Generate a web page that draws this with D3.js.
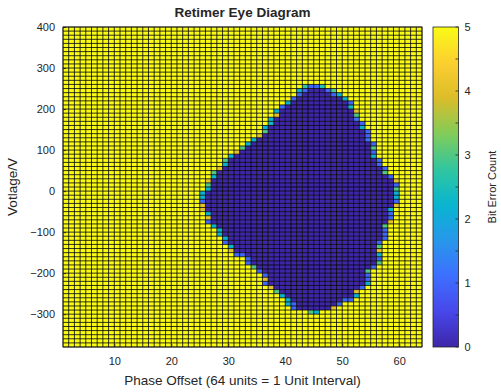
<!DOCTYPE html>
<html><head><meta charset="utf-8">
<script src="https://cdn.jsdelivr.net/npm/d3@7"></script>
<style>body{margin:0;background:#fff}text{font-family:"Liberation Sans",Arial,Helvetica,sans-serif;fill:#262626}</style>
</head><body>
<svg id="c" width="501" height="392"></svg>
<script>
// ---- data ----
const phaseEdges = d3.range(1, 65);              // 1..64 -> 63 columns
const voltageEdges = d3.range(400, -390, -10);   // 400..-380 -> 78 rows
const xTicks = [10, 20, 30, 40, 50, 60];
const yTicks = [-300, -200, -100, 0, 100, 200, 300, 400];
const cbTicks = [0, 1, 2, 3, 4, 5];
const cbMinorTicks = [0.5, 1.5, 2.5, 3.5, 4.5];
const maxCount = 5;

// eye opening: per voltage row (top edge), first and last phase with errors < max
const eyeRowVoltage = [260,250,240,230,220,210,200,190,180,170,160,150,140,130,120,110,100,90,80,70,60,50,40,30,20,10,0,-10,-20,-30,-40,-50,-60,-70,-80,-90,-100,-110,-120,-130,-140,-150,-160,-170,-180,-190,-200,-210,-220,-230,-240,-250,-260,-270,-280,-290];
const eyeLeftPhase  = [43,42,42,41,40,39,38,38,37,37,36,36,35,34,33,32,31,30,29,29,28,27,27,26,26,26,25,25,25,25,25,26,26,26,27,28,28,29,29,30,30,32,33,33,34,35,36,36,36,37,38,39,40,40,41,44];
const eyeRightPhase = [46,48,49,50,51,51,52,52,52,53,53,54,54,54,55,55,55,55,56,56,57,57,58,59,59,59,59,59,59,59,58,58,58,58,57,57,57,57,56,56,56,56,56,56,55,54,54,54,54,53,52,52,51,49,48,45];
const eyeLeftCount  = [2.8,2.2,1.0,2.2,2.2,1.0,2.2,4.0,2.2,2.4,2.2,3.0,4.0,2.2,2.2,3.0,4.0,2.2,3.0,2.2,4.0,3.0,2.2,4.0,3.0,2.2,2.2,2.2,1.0,4.0,4.0,2.2,4.0,1.0,2.2,2.2,2.2,2.2,1.0,2.2,4.0,2.2,3.0,1.0,3.0,2.2,1.0,4.0,1.0,4.0,3.0,2.2,2.2,2.2,1.0,3.0];
const eyeRightCount = [2.6,3.0,2.2,2.2,1.0,2.4,4.0,3.0,1.2,1.0,2.2,1.0,1.0,1.2,1.0,3.0,1.0,2.2,1.0,1.0,1.0,3.0,1.0,4.0,1.0,3.0,2.2,2.2,1.0,4.0,2.2,1.0,1.0,4.0,3.0,1.0,1.0,1.0,1.0,3.0,4.0,2.2,1.0,3.0,1.0,3.0,1.0,1.0,2.2,1.0,4.0,2.2,1.0,1.0,4.0,2.2];
// isolated partial-error cells inside the eye: [phase, voltage(top), count]
const extraCells = [[44,260,1.0],[45,260,1.0],[43,250,1.0],[47,250,1.0],[48,240,1.0],[41,230,1.0],[31,-150,1.0],[32,-150,1.0],[33,-160,1.0],[35,-190,1.0],[36,-200,1.0],[56,-120,1.0],[53,-230,1.0],[50,-260,1.0],[41,-270,1.0]];

// parula colormap stops (t = k/9)
const parula = [[0.2422,0.1504,0.6603],[0.2803,0.2782,0.9221],[0.2440,0.4358,0.9988],[0.1540,0.5902,0.9218],[0.0297,0.7082,0.8163],[0.1938,0.7758,0.6251],[0.5044,0.7993,0.3480],[0.8634,0.7406,0.1596],[0.9892,0.8136,0.1885],[0.9769,0.9839,0.0805]];

// ---- build matrix ----
const nCols = phaseEdges.length - 1, nRows = voltageEdges.length - 1;
const cells = [];
for (let r = 0; r < nRows; r++) {
  const v = voltageEdges[r];
  const ei = eyeRowVoltage.indexOf(v);
  for (let c = 0; c < nCols; c++) {
    const p = phaseEdges[c];
    let val = maxCount;
    if (ei >= 0 && p >= eyeLeftPhase[ei] && p <= eyeRightPhase[ei]) {
      val = 0;
      if (p === eyeLeftPhase[ei]) val = eyeLeftCount[ei];
      if (p === eyeRightPhase[ei]) val = eyeRightCount[ei];
    }
    cells.push({p0: p, p1: phaseEdges[c+1], v0: v, v1: voltageEdges[r+1], val});
  }
}
extraCells.forEach(([p, v, n]) => {
  const c = cells.find(d => d.p0 === p && d.v0 === v);
  if (c) c.val = n;
});

const toRgb = a => d3.rgb(a[0]*255, a[1]*255, a[2]*255).formatHex();
const colorScale = d3.scaleLinear()
  .domain(parula.map((_, i) => i / (parula.length - 1) * maxCount))
  .range(parula.map(toRgb))
  .interpolate(d3.interpolateRgb).clamp(true);

// ---- layout ----
const svg = d3.select("#c");
const L = 63, R = 422, T = 27, B = 347;
const x = d3.scaleLinear().domain([phaseEdges[0], phaseEdges[nCols]]).range([L, R]);
const y = d3.scaleLinear().domain([voltageEdges[nRows], voltageEdges[0]]).range([B, T]);

const g = svg.append("g");
g.selectAll("rect.cell").data(cells).join("rect")
  .attr("x", d => x(d.p0)).attr("y", d => y(d.v0))
  .attr("width", d => x(d.p1) - x(d.p0)).attr("height", d => y(d.v1) - y(d.v0))
  .attr("fill", d => colorScale(d.val));

// grid (cell edges)
g.selectAll("line.v").data(phaseEdges).join("line")
  .attr("x1", d => x(d)).attr("x2", d => x(d)).attr("y1", T).attr("y2", B)
  .attr("stroke", "#000").attr("stroke-width", 0.8);
g.selectAll("line.h").data(voltageEdges).join("line")
  .attr("y1", d => y(d)).attr("y2", d => y(d)).attr("x1", L).attr("x2", R)
  .attr("stroke", "#000").attr("stroke-width", 0.8);

// axes
const xAxis = svg.append("g").attr("transform", `translate(0,${B})`)
  .call(d3.axisBottom(x).tickValues(xTicks).tickSize(-3).tickPadding(10));
const yAxis = svg.append("g").attr("transform", `translate(${L},0)`)
  .call(d3.axisLeft(y).tickValues(yTicks).tickSize(-3).tickPadding(8));
[xAxis, yAxis].forEach(a => {
  a.select(".domain").remove();
  a.selectAll(".tick line").attr("stroke", "#262626");
  a.selectAll(".tick text").style("font-size", "11px").attr("fill", "#262626");
});
svg.append("rect").attr("x", L).attr("y", T).attr("width", R - L).attr("height", B - T)
  .attr("fill", "none").attr("stroke", "#262626").attr("stroke-width", 0.8);

// title & labels
svg.append("text").attr("x", (L + R) / 2).attr("y", 17).attr("text-anchor", "middle")
  .style("font-size", "13.5px").style("font-weight", "bold").attr("fill", "#000").text("Retimer Eye Diagram");
svg.append("text").attr("x", (L + R) / 2).attr("y", 385).attr("text-anchor", "middle")
  .style("font-size", "13.5px").text("Phase Offset (64 units = 1 Unit Interval)");
svg.append("text").attr("transform", `translate(17,${(T + B) / 2}) rotate(-90)`).attr("text-anchor", "middle")
  .style("font-size", "13.5px").text("Votlage/V");

// colorbar
const cbL = 433, cbW = 25.5;
const defs = svg.append("defs");
const grad = defs.append("linearGradient").attr("id", "cbg").attr("x1", 0).attr("y1", 1).attr("x2", 0).attr("y2", 0);
d3.range(0, 1.0001, 0.02).forEach(t => grad.append("stop").attr("offset", t).attr("stop-color", colorScale(t * maxCount)));
svg.append("rect").attr("x", cbL).attr("y", T).attr("width", cbW).attr("height", B - T).attr("fill", "url(#cbg)")
  .attr("stroke", "#262626").attr("stroke-width", 0.8);
const cy = d3.scaleLinear().domain([0, maxCount]).range([B, T]);
svg.append("g").selectAll("line").data(cbTicks.concat(cbMinorTicks)).join("line")
  .attr("x1", cbL + cbW - 3).attr("x2", cbL + cbW).attr("y1", d => cy(d)).attr("y2", d => cy(d))
  .attr("stroke", "#262626").attr("stroke-width", 0.8);
svg.append("g").selectAll("text").data(cbTicks).join("text")
  .attr("x", cbL + cbW + 6).attr("y", d => cy(d)).attr("dy", "0.35em")
  .style("font-size", "11px").text(d => d);
svg.append("text").attr("transform", `translate(496,${(T + B) / 2}) rotate(-90)`).attr("text-anchor", "middle")
  .style("font-size", "11px").text("Bit Error Count");
</script>
</body></html>
